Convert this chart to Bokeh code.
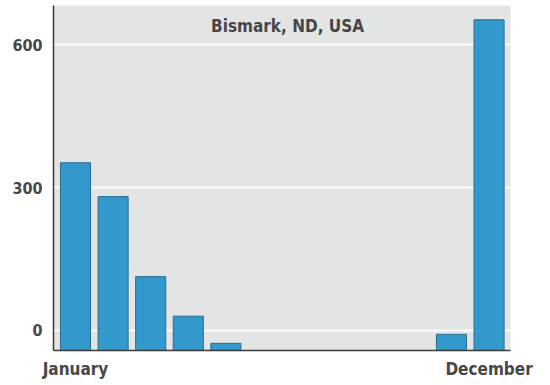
from bokeh.plotting import figure
from bokeh.models import FixedTicker, Range1d, Label, ColumnDataSource
from bokeh.embed import file_html
from bokeh.resources import INLINE

# ---- data ----
months = ["January", "February", "March", "April", "May", "June", "July",
          "August", "September", "October", "November", "December"]
month_num = [1, 2, 3, 4, 5, 6, 7, 8, 9, 10, 11, 12]
values = [352, 281, 113, 30, -27, None, None, None, None, None, -8, 652]
baseline = -42
y_ticks = [0, 300, 600]
x_ticks = [1, 12]
x_tick_labels = {1: "January", 12: "December"}
title_text = "Bismark, ND, USA"

FONT = "'DejaVu Sans Condensed', 'Liberation Sans Narrow', sans-serif"
TXT = "#474747"

xs = [m for m, v in zip(month_num, values) if v is not None]
tops = [v for v in values if v is not None]
src = ColumnDataSource(dict(x=xs, top=tops, bottom=[baseline] * len(xs)))

p = figure(output_backend="svg", toolbar_location=None,
           frame_width=457, frame_height=345,
           min_border_left=53, min_border_right=40, min_border_top=5, min_border_bottom=20,
           x_range=Range1d(0.415, 12.57), y_range=Range1d(baseline, 682))

p.background_fill_color = "#e3e5e5"
p.border_fill_color = "white"
p.outline_line_color = None

p.vbar(x="x", top="top", bottom="bottom", width=0.8, source=src,
       fill_color="#3399cc", line_color="#2a6d8e", line_width=1)

p.xgrid.visible = False
p.ygrid.ticker = FixedTicker(ticks=y_ticks)
p.ygrid.grid_line_color = "white"
p.ygrid.grid_line_width = 2
p.ygrid.grid_line_alpha = 0.9

for ax in (p.xaxis[0], p.yaxis[0]):
    ax.axis_line_color = "#3a3a3a"
    ax.axis_line_width = 1.5
    ax.major_tick_line_color = None
    ax.minor_tick_line_color = None
    ax.major_label_text_font = FONT
    ax.major_label_text_font_style = "bold"
    ax.major_label_text_color = TXT

p.yaxis.ticker = FixedTicker(ticks=y_ticks)
p.yaxis.major_label_text_font_size = "16px"
p.yaxis.major_label_standoff = 5

p.xaxis.ticker = FixedTicker(ticks=x_ticks)
p.xaxis.major_label_overrides = x_tick_labels
p.xaxis.major_label_text_font_size = "17px"
p.xaxis.major_label_standoff = 2

p.add_layout(Label(x=6.64, y=639, text=title_text, text_align="center",
                   text_baseline="middle", text_font=FONT, text_font_size="17px",
                   text_font_style="bold", text_color=TXT))

open("out.html", "w").write(file_html(p, INLINE))
